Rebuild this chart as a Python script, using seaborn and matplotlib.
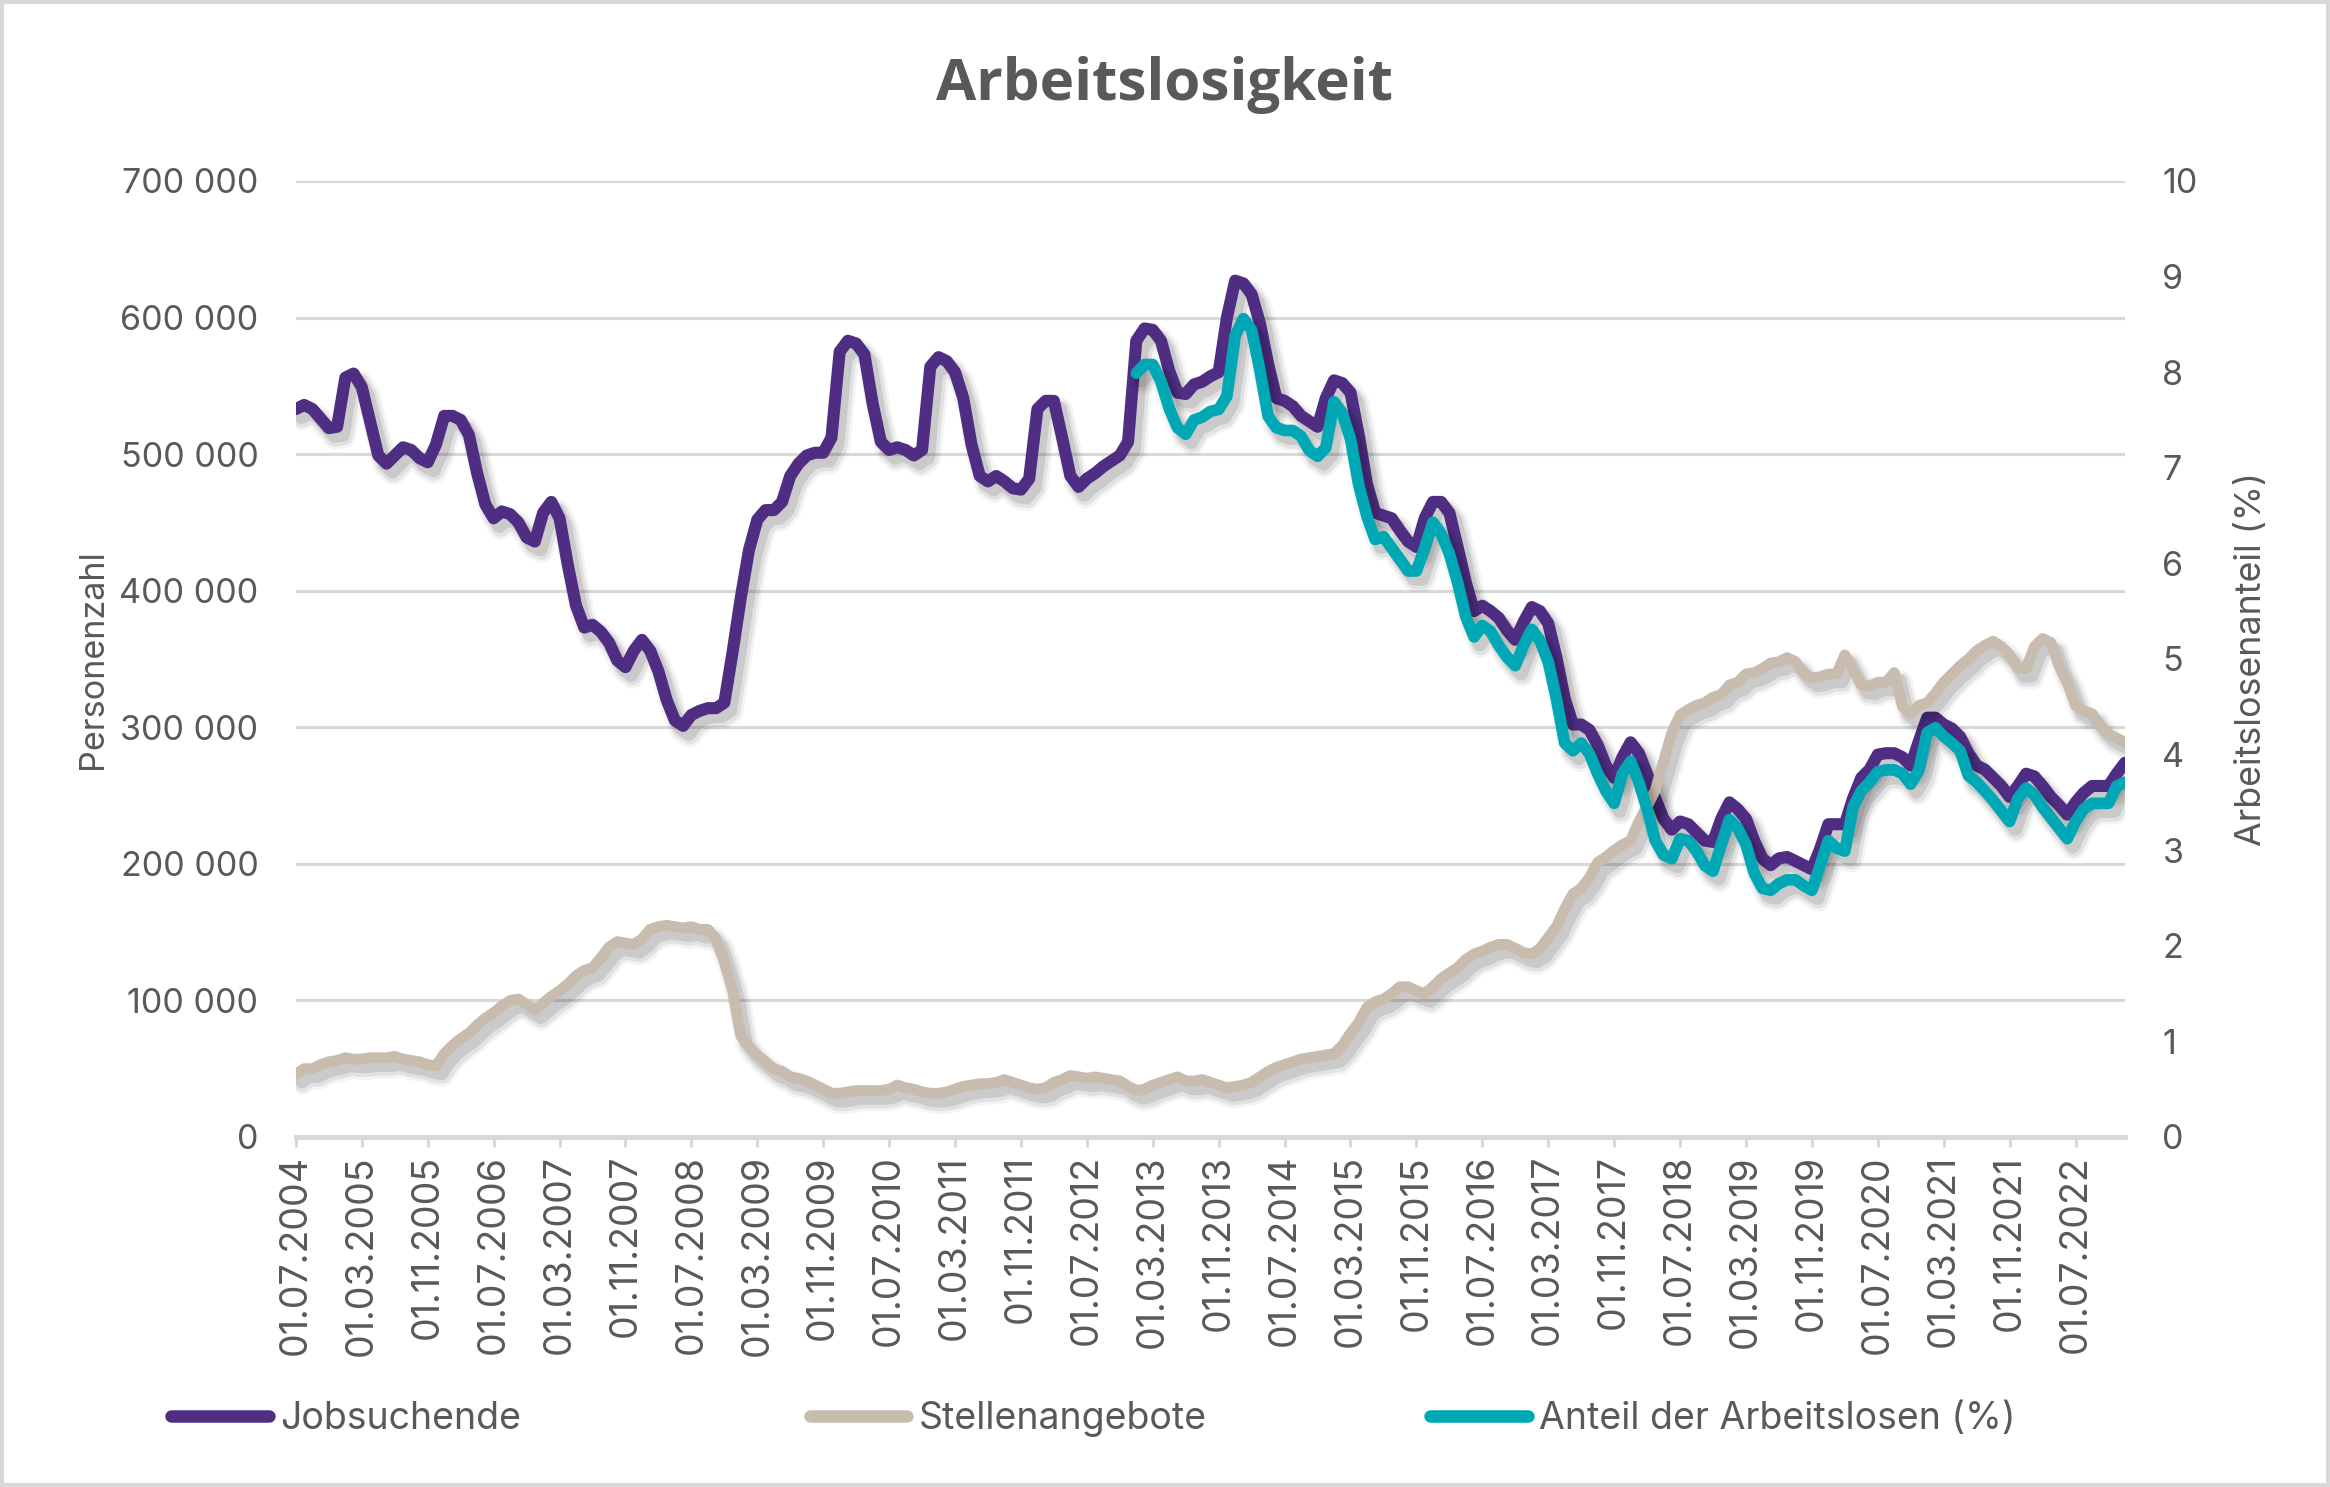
import numpy as np
import pandas as pd
import matplotlib
matplotlib.use("Agg")
import matplotlib.pyplot as plt
import matplotlib.patheffects as pe
from matplotlib.lines import Line2D
from matplotlib.patches import Rectangle
import seaborn as sns

# ---------------- data ----------------
start_month = "2004-07-01"
n_months = 223

# Jobsuchende (in thousands), monthly from 01.07.2004
jobsuchende_tsd = [
    533, 536, 533, 526, 519, 520, 556, 559, 549, 524, 499, 493, 499, 505, 503, 497,
    494, 507, 528, 528, 525, 514, 486, 463, 453, 458, 456, 450, 439, 436, 457, 465,
    453, 419, 389, 373, 375, 370, 362, 349, 344, 356, 364, 356, 341, 320, 305, 301,
    309, 312, 314, 314, 318, 355, 395, 430, 452, 459, 459, 465, 484, 493, 499, 501,
    501, 512, 575, 583, 581, 573, 537, 509, 503, 505, 503, 499, 503, 564, 571, 568,
    560, 541, 507, 484, 480, 484, 480, 475, 474, 482, 533, 539, 539, 512, 484, 476,
    482, 486, 491, 495, 499, 509, 583, 592, 591, 583, 561, 545, 544, 551, 553, 557,
    560, 600, 627, 625, 617, 596, 566, 541, 539, 535, 528, 524, 520, 541, 554, 552,
    545, 514, 478, 457, 455, 453, 444, 436, 432, 453, 465, 465, 457, 432, 406, 385,
    389, 385, 380, 371, 364, 377, 388, 385, 376, 351, 321, 302, 302, 298, 287, 272,
    263, 278, 289, 281, 266, 248, 233, 225, 231, 229, 223, 217, 216, 233, 245, 240,
    233, 217, 204, 199, 204, 205, 202, 199, 196, 211, 229, 229, 229, 248, 263, 269,
    280, 281, 281, 278, 272, 290, 307, 307, 302, 299, 293, 281, 272, 269, 263, 257,
    249, 257, 266, 264, 257, 249, 243, 236, 245, 252, 257, 257, 257, 266, 274,
]

# Stellenangebote (in thousands)
stellenangebote_tsd = [
    46, 50, 50, 53, 55, 56, 58, 57, 57, 58, 58, 58, 59, 57, 56, 55,
    53, 52, 61, 67, 72, 76, 82, 87, 91, 96, 100, 101, 97, 93, 98, 103,
    107, 112, 118, 122, 124, 131, 139, 143, 142, 141, 145, 152, 154, 155, 154, 153,
    154, 152, 152, 145, 128, 107, 74, 66, 60, 55, 50, 48, 44, 43, 41, 38,
    35, 32, 32, 33, 34, 34, 34, 34, 35, 38, 36, 35, 33, 32, 32, 33,
    35, 37, 38, 39, 39, 40, 42, 40, 38, 36, 35, 36, 40, 42, 45, 44,
    43, 44, 43, 42, 41, 37, 34, 35, 38, 40, 42, 44, 41, 41, 42, 40,
    38, 36, 37, 38, 40, 44, 48, 51, 53, 55, 57, 58, 59, 60, 61, 67,
    76, 84, 95, 99, 101, 105, 110, 110, 107, 105, 110, 116, 120, 124, 130, 134,
    136, 139, 141, 141, 138, 135, 134, 138, 146, 154, 167, 178, 182, 190, 201, 205,
    210, 214, 217, 231, 242, 254, 275, 296, 309, 313, 316, 318, 322, 324, 331, 333,
    339, 340, 343, 347, 348, 351, 348, 340, 336, 337, 339, 339, 353, 342, 331, 330,
    333, 333, 340, 315, 310, 316, 318, 325, 333, 339, 345, 350, 356, 360, 363, 359,
    353, 343, 343, 359, 365, 362, 345, 333, 316, 312, 310, 301, 295, 292, 289,
]

# Anteil der Arbeitslosen (%), starts 01.01.2013 (month index 102)
anteil_start = 102
anteil_pct = [
    7.99, 8.08, 8.08, 7.90, 7.62, 7.42, 7.35, 7.50, 7.53, 7.59, 7.61, 7.75, 8.38, 8.56,
    8.44, 8.02, 7.54, 7.42, 7.39, 7.39, 7.33, 7.18, 7.12, 7.21, 7.69, 7.57, 7.30, 6.82,
    6.49, 6.25, 6.28, 6.16, 6.04, 5.92, 5.92, 6.16, 6.43, 6.31, 6.10, 5.80, 5.44, 5.23,
    5.35, 5.29, 5.14, 5.02, 4.93, 5.14, 5.31, 5.19, 4.97, 4.58, 4.12, 4.04, 4.12, 4.01,
    3.80, 3.62, 3.49, 3.80, 3.93, 3.71, 3.43, 3.10, 2.95, 2.91, 3.12, 3.10, 2.99, 2.84,
    2.78, 3.06, 3.32, 3.23, 3.06, 2.76, 2.60, 2.58, 2.65, 2.69, 2.69, 2.63, 2.58, 2.84,
    3.10, 3.02, 2.99, 3.45, 3.62, 3.71, 3.82, 3.84, 3.84, 3.80, 3.69, 3.84, 4.23, 4.28,
    4.19, 4.12, 4.04, 3.78, 3.71, 3.62, 3.52, 3.41, 3.30, 3.54, 3.65, 3.58, 3.45, 3.34,
    3.23, 3.12, 3.30, 3.43, 3.49, 3.49, 3.49, 3.67, 3.71,
]

left_ticks = [0, 100000, 200000, 300000, 400000, 500000, 600000, 700000]
right_ticks = [0, 1, 2, 3, 4, 5, 6, 7, 8, 9, 10]
title = "Arbeitslosigkeit"
left_label = "Personenzahl"
right_label = "Arbeitslosenanteil (%)"
series_names = ["Jobsuchende", "Stellenangebote", "Anteil der Arbeitslosen (%)"]

# ---------------- frames ----------------
dates = pd.date_range(start_month, periods=n_months, freq="MS")
df = pd.DataFrame({
    "idx": np.arange(n_months),
    "Jobsuchende": np.array(jobsuchende_tsd) * 1000,
    "Stellenangebote": np.array(stellenangebote_tsd) * 1000,
})
df_pct = pd.DataFrame({
    "idx": np.arange(anteil_start, anteil_start + len(anteil_pct)),
    "Anteil": anteil_pct,
})
tick_idx = list(range(0, n_months, 8))
tick_labels = [dates[i].strftime("%d.%m.%Y") for i in tick_idx]

# ---------------- style ----------------
sns.set_theme(style="white")
plt.rcParams["font.family"] = ["Inter", "DejaVu Sans"]
TXT = "#595959"
GRID = "#D9D9D9"
C_JOB = "#4F2D83"
C_STE = "#C7BCAE"
C_ANT = "#00A8B5"
FS_Y = 8.2
FS_X = 9.0
FS_LEG = 9.0

fig = plt.figure(figsize=(2330 / 300, 1487 / 300), dpi=300)
ax = fig.add_axes([0.127, 0.2354, 0.785, 0.6429])
ax2 = ax.twinx()


def shadow(lw):
    return [
        pe.SimpleLineShadow(offset=(1.6, -2.2), shadow_color="black", alpha=0.045, linewidth=lw + 3.0),
        pe.SimpleLineShadow(offset=(1.6, -2.2), shadow_color="black", alpha=0.07, linewidth=lw + 1.6),
        pe.SimpleLineShadow(offset=(1.4, -1.9), shadow_color="black", alpha=0.10, linewidth=lw + 0.4),
        pe.Normal(),
    ]


LW_JOB, LW_STE, LW_ANT = 2.9, 2.6, 2.8
sns.lineplot(data=df, x="idx", y="Jobsuchende", ax=ax, color=C_JOB, linewidth=LW_JOB, legend=False)
ax.lines[-1].set_path_effects(shadow(LW_JOB))
sns.lineplot(data=df, x="idx", y="Stellenangebote", ax=ax, color=C_STE, linewidth=LW_STE, legend=False)
ax.lines[-1].set_path_effects(shadow(LW_STE))
sns.lineplot(data=df_pct, x="idx", y="Anteil", ax=ax2, color=C_ANT, linewidth=LW_ANT, legend=False)
ax2.lines[-1].set_path_effects(shadow(LW_ANT))
for a in (ax, ax2):
    for ln in a.lines:
        ln.set_solid_capstyle("round")
        ln.set_solid_joinstyle("round")

# axes
ax.set_xlim(0, n_months - 1)
ax.set_ylim(0, 700000)
ax2.set_ylim(0, 10)
ax.set_yticks(left_ticks)
ax.set_yticklabels([f"{v:,}".replace(",", " ") for v in left_ticks])
ax2.set_yticks(right_ticks)
ax2.set_yticklabels([str(v) for v in right_ticks])
ax.set_xticks(tick_idx)
ax.set_xticklabels(tick_labels, rotation=90)

ax.grid(axis="y", color=GRID, linewidth=0.75)
ax.grid(axis="x", visible=False)
ax2.grid(False)
ax.set_axisbelow(True)
for a in (ax, ax2):
    for s in ("left", "right", "top", "bottom"):
        a.spines[s].set_visible(False)
ax.spines["bottom"].set_visible(True)
ax.spines["bottom"].set_color(GRID)
ax.spines["bottom"].set_linewidth(1.2)

ax.tick_params(axis="x", bottom=True, length=2.3, width=0.75, color=GRID, pad=2,
               labelsize=FS_X, labelcolor=TXT)
ax.tick_params(axis="y", left=False, length=0, pad=9, labelsize=FS_Y, labelcolor=TXT)
ax2.tick_params(axis="y", right=False, length=0, pad=9, labelsize=FS_Y, labelcolor=TXT)

ax.set_xlabel("")
ax.set_ylabel(left_label, fontsize=FS_Y, color=TXT)
ax2.set_ylabel(right_label, fontsize=8.6, color=TXT, rotation=90)
ax.yaxis.set_label_coords(-0.102, 0.5)
ax2.yaxis.set_label_coords(1.060, 0.5)

fig.text(0.4997, 0.943, title, ha="center", va="center", fontsize=14, fontweight="bold",
         color=TXT, family=["Open Sans", "DejaVu Sans"])

# legend: three entries placed like the original
legend_x = [171 / 2330, 810 / 2330, 1430 / 2330]
for name, col, lx in zip(series_names, [C_JOB, C_STE, C_ANT], legend_x):
    h = Line2D([0], [0], color=col, linewidth=3.0, solid_capstyle="round")
    fig.legend([h], [name], loc="center left", bbox_to_anchor=(lx, 0.0457), frameon=False,
               fontsize=FS_LEG, labelcolor=TXT, handlelength=2.6, handletextpad=0.3,
               borderpad=0, borderaxespad=0)

fig.add_artist(Rectangle((0.0008, 0.0012), 0.9984, 0.9976, transform=fig.transFigure,
                         fill=False, edgecolor=GRID, linewidth=1.0))

fig.savefig("out.png", dpi=300, facecolor="white")
